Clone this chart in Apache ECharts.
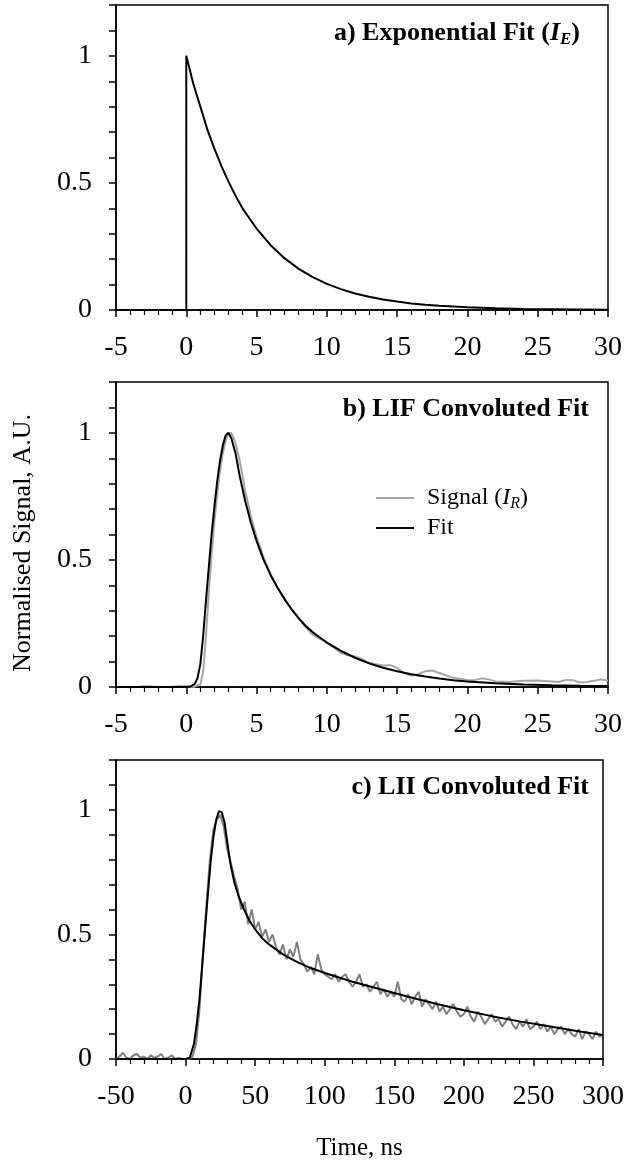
<!DOCTYPE html>
<html>
<head>
<meta charset="utf-8">
<script src="https://cdn.jsdelivr.net/npm/echarts@6/dist/echarts.min.js"></script>
<style>
  html, body { margin: 0; padding: 0; background: #fff; }
  #main { width: 629px; height: 1162px; }
</style>
</head>
<body>
<div id="main"></div>
<script>
// a) exponential fit, time in ns
var expT = [-5, 0, 0, 0.5, 1, 1.5, 2, 2.5, 3, 3.5, 4, 4.5, 5, 6, 7, 8, 9, 10, 11, 12, 13, 14, 15, 16, 17, 18, 20, 22, 24, 26, 28, 30];
var expV = [0, 0, 1, 0.89, 0.80, 0.71, 0.635, 0.566, 0.505, 0.45, 0.40, 0.36, 0.32, 0.255, 0.203, 0.162, 0.129, 0.103, 0.082, 0.065, 0.052, 0.041, 0.033, 0.026, 0.021, 0.017, 0.011, 0.007, 0.004, 0.003, 0.002, 0.001];

// b) LIF signal and convoluted fit
var lifFitT = [-5, 0, 0.3, 0.6, 0.8, 1.0, 1.2, 1.4, 1.6, 1.8, 2.0, 2.2, 2.4, 2.6, 2.8, 3.0, 3.2, 3.5, 3.8, 4.2, 4.6, 5.0, 5.5, 6, 6.5, 7, 7.5, 8, 8.5, 9, 9.5, 10, 11, 12, 13, 14, 15, 16, 17, 18, 19, 20, 22, 24, 26, 28, 30];
var lifFitV = [0, 0, 0.002, 0.012, 0.035, 0.09, 0.2, 0.34, 0.47, 0.6, 0.71, 0.81, 0.89, 0.95, 0.99, 1.0, 0.98, 0.92, 0.83, 0.73, 0.645, 0.575, 0.5, 0.44, 0.39, 0.345, 0.305, 0.27, 0.24, 0.215, 0.195, 0.175, 0.142, 0.115, 0.093, 0.076, 0.062, 0.05, 0.041, 0.033, 0.027, 0.022, 0.015, 0.01, 0.007, 0.005, 0.004];
var lifSigT = [-5, -3.5, -3, -2.5, -2, -1, -0.5, 0, 0.5, 1.0, 1.2, 1.4, 1.6, 1.8, 2.0, 2.2, 2.4, 2.6, 2.8, 3.0, 3.2, 3.5, 3.8, 4.2, 4.6, 5.0, 5.5, 6, 6.5, 7, 7.5, 8, 8.5, 9, 9.5, 10, 10.5, 11, 11.5, 12, 12.5, 13, 13.5, 14, 14.5, 15, 15.5, 16, 16.5, 17, 17.5, 18, 18.5, 19, 20, 20.5, 21, 21.5, 22, 23, 24, 25, 26, 26.5, 27, 27.5, 28, 28.5, 29.5, 30];
var lifSigV = [0, 0, 0.003, 0.002, 0, 0, 0.004, 0.003, 0, 0.01, 0.06, 0.2, 0.37, 0.52, 0.65, 0.76, 0.85, 0.92, 0.97, 0.995, 1.0, 0.96, 0.89, 0.77, 0.67, 0.59, 0.51, 0.445, 0.39, 0.345, 0.305, 0.27, 0.235, 0.205, 0.19, 0.175, 0.155, 0.135, 0.125, 0.12, 0.11, 0.095, 0.09, 0.085, 0.086, 0.075, 0.055, 0.045, 0.05, 0.062, 0.065, 0.055, 0.045, 0.036, 0.028, 0.027, 0.034, 0.03, 0.022, 0.02, 0.025, 0.026, 0.022, 0.02, 0.028, 0.027, 0.018, 0.02, 0.03, 0.025];

// c) LII signal (sampled every 2.5 ns from -50 ns) and convoluted fit
var liiStart = -50, liiStep = 2.5;
var liiSigV = [
  0.0, 0.01, 0.025, 0.005, 0.0, 0.015, 0.02, 0.005, 0.01, 0.0,
  0.015, 0.005, 0.01, 0.02, 0.0, 0.005, 0.015, 0.0, 0.005, 0.0,
  0.0, 0.0, 0.01, 0.06, 0.2, 0.42, 0.62, 0.8, 0.92, 0.96,
  0.98, 0.93, 0.84, 0.79, 0.73, 0.68, 0.6, 0.63, 0.54, 0.6,
  0.52, 0.55, 0.49, 0.52, 0.47, 0.5, 0.45, 0.42, 0.46, 0.4,
  0.44, 0.41, 0.47, 0.4, 0.38, 0.35, 0.37, 0.34, 0.42, 0.36,
  0.34, 0.33, 0.32, 0.34, 0.31, 0.33, 0.34, 0.31, 0.29, 0.31,
  0.34, 0.29, 0.3, 0.27, 0.29, 0.31, 0.26, 0.28, 0.25, 0.27,
  0.25, 0.31, 0.24, 0.23, 0.26, 0.22, 0.25, 0.27, 0.21, 0.24,
  0.22, 0.2, 0.23, 0.19, 0.21, 0.18, 0.2, 0.22, 0.19, 0.17,
  0.18, 0.21, 0.17, 0.15, 0.19, 0.17, 0.14, 0.16, 0.18, 0.15,
  0.16, 0.13, 0.15, 0.17, 0.14, 0.12, 0.15, 0.13, 0.16, 0.12,
  0.13, 0.15, 0.12, 0.14, 0.11, 0.13, 0.1, 0.12, 0.13, 0.1,
  0.12, 0.1, 0.09, 0.12, 0.08, 0.11, 0.1, 0.08, 0.11, 0.09,
  0.1
];
var liiFitT = [-50, 0, 3, 6, 8, 10, 12, 14, 16, 18, 20, 22, 24, 25, 26, 28, 30, 32, 35, 38, 42, 46, 50, 55, 60, 70, 80, 90, 100, 120, 140, 160, 180, 200, 220, 240, 260, 280, 300];
var liiFitV = [0, 0, 0.005, 0.06, 0.14, 0.24, 0.38, 0.52, 0.66, 0.79, 0.89, 0.96, 0.995, 1.0, 0.99, 0.95, 0.87, 0.79, 0.71, 0.655, 0.6, 0.555, 0.52, 0.485, 0.46, 0.42, 0.39, 0.365, 0.345, 0.31, 0.28, 0.25, 0.222, 0.196, 0.172, 0.151, 0.132, 0.113, 0.096];

var FONT = 'Liberation Serif';

function zip(t, v) {
    var out = [];
    for (var i = 0; i < t.length; i++) out.push([t[i], v[i]]);
    return out;
}
var liiSig = [];
for (var i = 0; i < liiSigV.length; i++) liiSig.push([liiStart + i * liiStep, liiSigV[i]]);

function xAxisOpt(idx, min, max, step, extra) {
    var o = {
        gridIndex: idx, type: 'value', min: min, max: max, interval: step,
        axisLine: { show: true, onZero: false, lineStyle: { color: '#000', width: 1.5 } },
        axisTick: { show: true, length: 7, lineStyle: { color: '#000', width: 1.5 } },
        minorTick: { show: true, splitNumber: 5, length: 5, lineStyle: { color: '#000', width: 1.2 } },
        axisLabel: { fontFamily: FONT, fontSize: 28, color: '#000', margin: 24 },
        splitLine: { show: false }
    };
    for (var k in extra) o[k] = extra[k];
    return o;
}
function yAxisOpt(idx) {
    return {
        gridIndex: idx, type: 'value', min: 0, max: 1.2, interval: 0.1,
        axisLine: { show: true, onZero: false, lineStyle: { color: '#000', width: 1.5 } },
        axisTick: { show: true, length: 7, lineStyle: { color: '#000', width: 1.5 } },
        axisLabel: {
            fontFamily: FONT, fontSize: 28, color: '#000', margin: 24,
            formatter: function (v) {
                var r = Math.round(v * 10);
                return r === 0 ? '0' : r === 5 ? '0.5' : r === 10 ? '1' : '';
            }
        },
        splitLine: { show: false }
    };
}
function lineSeries(name, data, idx, color) {
    return {
        name: name, type: 'line', data: data, xAxisIndex: idx, yAxisIndex: idx,
        showSymbol: false, symbol: 'none', color: color,
        lineStyle: { color: color, width: 2 }, z: color === '#000' ? 3 : 2
    };
}

var titleRich = {
    b: { fontFamily: FONT, fontWeight: 'bold', fontSize: 26, color: '#000' },
    bi: { fontFamily: FONT, fontWeight: 'bold', fontStyle: 'italic', fontSize: 26, color: '#000' },
    sub: { fontFamily: FONT, fontWeight: 'bold', fontStyle: 'italic', fontSize: 17, color: '#000', padding: [12, 0, 0, 0] }
};

var chart = echarts.init(document.getElementById('main'), null, { renderer: 'canvas' });
var option = {
    animation: false,
    backgroundColor: '#fff',
    grid: [
        { left: 116, right: 21, top: 5, height: 305, show: true, borderColor: '#000', borderWidth: 1.5 },
        { left: 116, right: 21, top: 382, height: 305, show: true, borderColor: '#000', borderWidth: 1.5 },
        { left: 116, right: 26, top: 760, height: 304, show: true, borderColor: '#000', borderWidth: 1.5 }
    ],
    title: [
        { text: '{b|a) Exponential Fit (}{bi|I}{sub|E}{b|)}', right: 49, top: 19, padding: 0, textStyle: { rich: titleRich } },
        { text: '{b|b) LIF Convoluted Fit}', right: 40, top: 396, padding: 0, textStyle: { rich: titleRich } },
        { text: '{b|c) LII Convoluted Fit}', right: 40, top: 774, padding: 0, textStyle: { rich: titleRich } }
    ],
    legend: {
        data: ['Signal', 'Fit'],
        orient: 'vertical', left: 371, top: 481,
        icon: 'rect', itemWidth: 38, itemHeight: 2, itemGap: 4,
        textStyle: {
            fontFamily: FONT, fontSize: 24, color: '#000', lineHeight: 24, padding: [0, 0, 0, 8],
            rich: {
                i: { fontFamily: FONT, fontStyle: 'italic', fontSize: 24, color: '#000' },
                s: { fontFamily: FONT, fontStyle: 'italic', fontSize: 16, color: '#000', padding: [12, 0, 0, 0] }
            }
        },
        formatter: function (name) {
            return name === 'Signal' ? 'Signal ({i|I}{s|R})' : 'Fit';
        }
    },
    xAxis: [
        xAxisOpt(0, -5, 30, 5, {}),
        xAxisOpt(1, -5, 30, 5, {}),
        xAxisOpt(2, -50, 300, 50, {
            name: 'Time, ns', nameLocation: 'middle', nameGap: 77,
            nameTextStyle: { fontFamily: FONT, fontSize: 25, color: '#000' }
        })
    ],
    yAxis: [yAxisOpt(0), yAxisOpt(1), yAxisOpt(2)],
    graphic: [{
        type: 'text', x: 23, y: 543, rotation: Math.PI / 2,
        style: { text: 'Normalised Signal, A.U.', font: '26px "Liberation Serif"', fill: '#000', align: 'center', verticalAlign: 'middle' }
    }],
    series: [
        lineSeries('Exp', zip(expT, expV), 0, '#000'),
        lineSeries('Signal', zip(lifSigT, lifSigV), 1, '#a6a6a6'),
        lineSeries('Fit', zip(lifFitT, lifFitV), 1, '#000'),
        lineSeries('LII Signal', liiSig, 2, '#808080'),
        lineSeries('LII Fit', zip(liiFitT, liiFitV), 2, '#000')
    ]
};
chart.setOption(option);
</script>
</body>
</html>
